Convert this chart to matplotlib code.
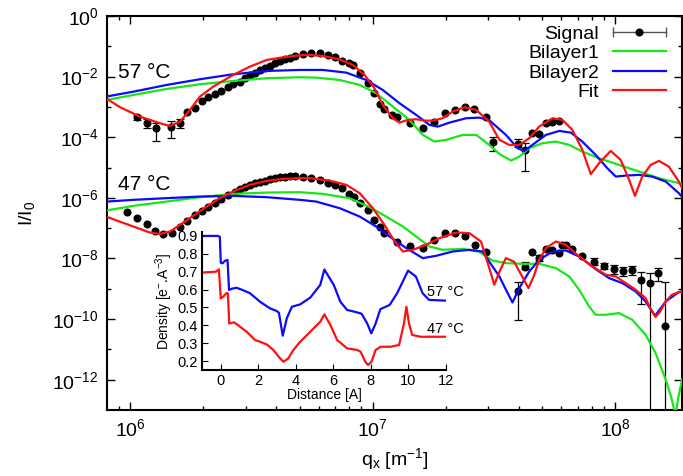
import numpy as np
import matplotlib
matplotlib.use('Agg')
import matplotlib.pyplot as plt
from matplotlib.lines import Line2D
from matplotlib.legend_handler import HandlerBase
from matplotlib.ticker import FixedLocator, NullFormatter, FixedFormatter

plt.rcParams['font.family'] = ['Liberation Sans', 'DejaVu Sans']
plt.rcParams['mathtext.default'] = 'regular'
plt.rcParams['mathtext.fontset'] = 'custom'
plt.rcParams['mathtext.rm'] = 'Liberation Sans'

# ---------------- data (log10 values) ----------------
# 57 C signal
sig57_lq = [6.028, 6.069, 6.106, 6.170, 6.206, 6.236, 6.267, 6.295, 6.322, 6.350, 6.377, 6.405,
            6.425, 6.453, 6.473, 6.494, 6.514, 6.535, 6.556, 6.576, 6.597, 6.617, 6.638, 6.658,
            6.679, 6.713, 6.748, 6.782, 6.816, 6.844, 6.874, 6.902, 6.919, 6.947, 6.981, 7.008,
            7.031, 7.046, 7.081, 7.100, 7.155, 7.207, 7.255, 7.299, 7.342, 7.383, 7.420, 7.468,
            7.495, 7.598, 7.629, 7.658, 7.687, 7.715, 7.741, 7.768]
sig57_lI = [-3.340, -3.538, -3.703, -3.670, -3.538, -3.155, -3.023, -2.802, -2.661, -2.572, -2.463, -2.331,
            -2.242, -2.166, -2.054, -1.945, -1.869, -1.780, -1.705, -1.639, -1.559, -1.493, -1.428, -1.375,
            -1.319, -1.263, -1.230, -1.230, -1.286, -1.342, -1.474, -1.540, -1.616, -1.889, -2.219, -2.549,
            -2.901, -3.076, -3.264, -3.320, -3.518, -3.703, -3.485, -3.208, -3.099, -3.010, -3.076, -3.320,
            -4.171, -4.220, -4.418, -3.874, -3.907, -3.518, -3.501, -3.468]
nan = np.nan
sig57_lo = [-3.429, -3.703, -4.111, -4.032, -3.703] + [nan] * 43 + [-4.451, -4.319, -5.100] + [nan] * 5
sig57_hi = [-3.264, -3.386, -3.518, -3.452, -3.386] + [nan] * 43 + [-4.006, -4.055, -4.197] + [nan] * 5

# 57 C fit
fit57_lq = [5.905, 5.959, 6.041, 6.123, 6.165, 6.206, 6.247, 6.288, 6.343, 6.425, 6.494, 6.563, 6.631,
            6.700, 6.741, 6.795, 6.864, 6.919, 6.967, 7.008, 7.042, 7.084, 7.111, 7.145, 7.180, 7.214,
            7.248, 7.289, 7.330, 7.379, 7.427, 7.481, 7.523, 7.564, 7.605, 7.646, 7.687, 7.742, 7.783,
            7.824, 7.865, 7.900, 7.934, 7.982, 8.023, 8.058, 8.082, 8.112, 8.147, 8.181, 8.222, 8.263, 8.276]
fit57_lI = [-2.737, -3.010, -3.320, -3.538, -3.627, -3.485, -3.099, -2.661, -2.331, -1.945, -1.672, -1.451, -1.362,
            -1.296, -1.286, -1.319, -1.428, -1.616, -1.945, -2.384, -2.934, -3.373, -3.518, -3.429, -3.406, -3.452,
            -3.452, -3.373, -3.155, -3.010, -3.099, -3.485, -4.088, -4.253, -4.253, -4.032, -3.650, -3.373, -3.429,
            -3.759, -4.418, -5.219, -4.856, -4.451, -4.748, -5.407, -5.935, -5.298, -4.913, -4.781, -4.969, -5.463, -5.671]

# 57 C bilayer 2
bl2_57_lq = [5.905, 6.014, 6.151, 6.288, 6.425, 6.563, 6.700, 6.795, 6.892, 6.974, 7.042, 7.111, 7.180,
             7.235, 7.269, 7.317, 7.386, 7.440, 7.481, 7.495, 7.550, 7.598, 7.626, 7.659, 7.715, 7.770,
             7.818, 7.865, 7.920, 7.968, 8.003, 8.044, 8.099, 8.153, 8.209, 8.263, 8.276]
bl2_57_lI = [-2.654, -2.496, -2.275, -2.087, -1.922, -1.813, -1.780, -1.780, -1.869, -2.110, -2.440, -2.878, -3.264,
             -3.594, -3.650, -3.518, -3.373, -3.353, -3.429, -3.538, -3.923, -4.362, -4.451, -4.253, -3.923, -3.792,
             -3.848, -4.144, -4.583, -5.021, -5.298, -5.265, -5.242, -5.298, -5.463, -5.846, -5.968]

# 57 C bilayer 1
bl1_57_lq = [5.905, 6.014, 6.151, 6.288, 6.425, 6.563, 6.700, 6.768, 6.864, 6.947, 7.015, 7.084, 7.152,
             7.207, 7.255, 7.303, 7.372, 7.427, 7.440, 7.481, 7.523, 7.571, 7.605, 7.646, 7.701, 7.756,
             7.811, 7.865, 7.934, 8.016, 8.099, 8.181, 8.263, 8.276]
bl1_57_lI = [-2.770, -2.605, -2.407, -2.252, -2.143, -2.054, -2.021, -2.034, -2.110, -2.275, -2.549, -2.990, -3.429,
             -3.923, -4.144, -4.088, -3.923, -3.923, -4.000, -4.253, -4.550, -4.771, -4.639, -4.362, -4.197, -4.144,
             -4.253, -4.474, -4.692, -4.913, -5.133, -5.351, -5.516, -5.539]

# 47 C signal
sig47_lq = [5.989, 6.030, 6.069, 6.103, 6.137, 6.171, 6.206, 6.236, 6.267, 6.295, 6.322, 6.350, 6.377,
            6.405, 6.432, 6.453, 6.473, 6.494, 6.514, 6.535, 6.556, 6.576, 6.597, 6.617, 6.638, 6.658,
            6.679, 6.713, 6.748, 6.782, 6.816, 6.844, 6.874, 6.902, 6.922, 6.949, 6.981, 7.008, 7.031,
            7.049, 7.100, 7.155, 7.207, 7.255, 7.299, 7.342, 7.383, 7.424, 7.468,
            7.598, 7.630, 7.657, 7.687, 7.715, 7.742, 7.770, 7.782, 7.797, 7.824, 7.865,
            7.914, 7.955, 7.996, 8.034, 8.071, 8.108, 8.143, 8.175, 8.206]
sig47_lI = [-6.452, -6.670, -6.858, -7.079, -7.187, -7.145, -6.947, -6.749, -6.561, -6.419, -6.287, -6.155, -6.043,
            -5.902, -5.793, -5.714, -5.628, -5.572, -5.516, -5.463, -5.430, -5.384, -5.351, -5.318, -5.298, -5.275,
            -5.275, -5.318, -5.351, -5.407, -5.516, -5.572, -5.681, -5.869, -5.958, -6.175, -6.396, -6.726, -6.966,
            -7.164, -7.441, -7.583, -7.659, -7.385, -7.164, -7.145, -7.253, -7.550, -7.771,
            -9.067, -8.266, -7.771, -7.989, -7.682, -7.715, -7.824, -7.550, -7.550, -7.692, -7.913,
            -8.101, -8.243, -8.351, -8.430, -8.397, -8.704, -8.813, -8.483, -10.221]
sig47_lo = [nan] * 49 + [-10.023, -8.351, nan, -8.090, nan, nan, nan, nan, nan, nan, nan,
                         -8.200, -8.352, -8.506, -8.572, -8.539, -9.495, -14.0, -8.760, -14.0]
sig47_hi = [nan] * 49 + [-8.780, -8.101, nan, -7.890, nan, nan, nan, nan, nan, nan, nan,
                         -8.000, -8.134, -8.210, -8.285, -8.243, -8.463, -8.483, -8.318, -8.780]

# 47 C fit
fit47_lq = [5.905, 5.945, 6.014, 6.082, 6.123, 6.165, 6.206, 6.260, 6.316, 6.370, 6.425, 6.494, 6.563,
            6.631, 6.700, 6.741, 6.823, 6.892, 6.947, 7.001, 7.049, 7.091, 7.125, 7.166, 7.221, 7.276,
            7.344, 7.399, 7.447, 7.481, 7.502, 7.523, 7.550, 7.584, 7.613, 7.643, 7.667, 7.687, 7.716,
            7.756, 7.797, 7.852, 7.907, 7.962, 8.003, 8.044, 8.085, 8.126, 8.148, 8.167, 8.185, 8.209,
            8.234, 8.263, 8.276]
fit47_lI = [-6.627, -6.749, -6.947, -7.145, -7.187, -7.112, -6.891, -6.594, -6.287, -6.010, -5.793, -5.572, -5.440,
            -5.374, -5.351, -5.351, -5.430, -5.572, -5.846, -6.340, -6.891, -7.441, -7.771, -7.715, -7.550, -7.329,
            -7.145, -7.164, -7.441, -8.309, -8.869, -8.441, -7.989, -8.111, -8.540, -8.978, -8.540, -8.045, -7.649,
            -7.441, -7.550, -7.936, -8.266, -8.539, -8.595, -8.813, -9.034, -9.308, -9.693, -9.934, -9.759, -9.419,
            -9.199, -9.110, -9.100]

# 47 C bilayer 2
bl2_47_lq = [5.905, 6.014, 6.151, 6.288, 6.425, 6.563, 6.700, 6.768, 6.864, 6.947, 7.015, 7.070, 7.139,
             7.207, 7.262, 7.330, 7.399, 7.454, 7.481, 7.523, 7.557, 7.577, 7.605, 7.646, 7.687, 7.742,
             7.797, 7.852, 7.920, 7.975, 8.030, 8.085, 8.126, 8.165, 8.209, 8.263, 8.276]
bl2_47_lI = [-6.123, -6.066, -6.010, -5.958, -5.935, -5.978, -6.066, -6.123, -6.340, -6.617, -6.947, -7.277, -7.659,
             -7.989, -7.913, -7.771, -7.715, -7.771, -8.101, -8.596, -9.143, -9.453, -8.978, -8.431, -8.045, -7.771,
             -7.738, -7.936, -8.351, -8.648, -8.813, -9.090, -9.419, -9.891, -9.419, -9.110, -9.100]

# 47 C bilayer 1
bl1_47_lq = [5.905, 6.014, 6.151, 6.288, 6.425, 6.563, 6.700, 6.795, 6.905, 6.988, 7.056, 7.125, 7.180,
             7.235, 7.289, 7.372, 7.440, 7.495, 7.550, 7.619, 7.687, 7.756, 7.811, 7.852, 7.893, 7.920,
             7.962, 8.016, 8.071, 8.126, 8.167, 8.209, 8.231, 8.250, 8.259, 8.276]
bl1_47_lI = [-6.413, -6.264, -6.123, -5.978, -5.869, -5.826, -5.813, -5.869, -6.010, -6.307, -6.617, -6.947, -7.277,
             -7.606, -7.715, -7.682, -7.781, -8.068, -8.154, -8.177, -8.177, -8.318, -8.595, -9.034, -9.584, -9.858,
             -9.858, -9.802, -10.023, -10.518, -11.121, -12.001, -12.562, -13.200, -12.660, -12.000]

# inset: density profiles
dist57 = [-1.0, -0.14, -0.05, 0.0, 0.1, 0.21, 0.36, 0.44, 0.6, 0.84, 1.1, 1.55, 2.09, 2.62, 2.98, 3.1,
          3.30, 3.52, 3.79, 4.23, 4.77, 5.30, 5.52, 6.02, 6.37, 6.73, 7.2, 7.5, 7.8, 8.02, 8.25, 8.5,
          9.0, 9.4, 9.98, 10.4, 10.75, 11.1, 12.0]
dens57 = [0.900, 0.900, 0.895, 0.750, 0.747, 0.760, 0.766, 0.598, 0.605, 0.610, 0.600, 0.580, 0.532, 0.495, 0.480, 0.470,
          0.342, 0.440, 0.504, 0.517, 0.555, 0.626, 0.712, 0.626, 0.532, 0.486, 0.474, 0.465, 0.411, 0.355, 0.410, 0.490,
          0.514, 0.580, 0.706, 0.672, 0.580, 0.542, 0.538]
dist47 = [-1.0, -0.25, -0.1, 0.0, 0.13, 0.3, 0.38, 0.45, 0.7, 0.93, 1.38, 1.82, 2.09, 2.45, 2.8, 3.16,
          3.34, 3.6, 3.87, 4.23, 4.77, 5.30, 5.52, 5.84, 6.2, 6.73, 7.27, 7.45, 7.7, 7.85, 8.03, 8.25,
          8.52, 9.05, 9.5, 9.76, 9.89, 10.03, 10.2, 10.65, 12.0]
dens47 = [0.695, 0.700, 0.713, 0.550, 0.560, 0.580, 0.578, 0.410, 0.417, 0.400, 0.364, 0.318, 0.308, 0.293, 0.262, 0.215,
          0.196, 0.215, 0.262, 0.308, 0.364, 0.420, 0.461, 0.402, 0.318, 0.271, 0.262, 0.252, 0.196, 0.178, 0.196, 0.262,
          0.280, 0.280, 0.290, 0.410, 0.504, 0.410, 0.346, 0.336, 0.336]

ytick_exp = [0, -2, -4, -6, -8, -10, -12]
xtick_exp = [6, 7, 8]

GREEN = '#19e619'
BLUE = '#0a0aff'
RED = '#ff1010'

def p(a):
    return 10.0 ** np.asarray(a, dtype=float)

# ---------------- figure ----------------
fig = plt.figure(figsize=(6.83, 4.76), dpi=100)
ax = fig.add_axes([107 / 683, 1 - 410 / 476, 575 / 683, 394 / 476])
ax.set_xscale('log')
ax.set_yscale('log')

lw = 1.6
for lq, lI, lo, hi in [(sig57_lq, sig57_lI, sig57_lo, sig57_hi), (sig47_lq, sig47_lI, sig47_lo, sig47_hi)]:
    q = p(lq); I = p(lI)
    ax.plot(q, I, 'o', color='black', ms=4.8, zorder=2)
    lo_a = np.asarray(lo, float); hi_a = np.asarray(hi, float)
    m = ~np.isnan(lo_a)
    ax.errorbar(q[m], I[m], yerr=[I[m] - p(lo_a[m]), p(hi_a[m]) - I[m]], fmt='none',
                ecolor='black', elinewidth=0.9, capsize=3, capthick=0.9, zorder=2)

ax.plot(p(bl1_57_lq), p(bl1_57_lI), color=GREEN, lw=lw, zorder=3)
ax.plot(p(bl2_57_lq), p(bl2_57_lI), color=BLUE, lw=lw, zorder=3)
ax.plot(p(fit57_lq), p(fit57_lI), color=RED, lw=lw, zorder=4)
ax.plot(p(bl1_47_lq), p(bl1_47_lI), color=GREEN, lw=lw, zorder=3)
ax.plot(p(bl2_47_lq), p(bl2_47_lI), color=BLUE, lw=lw, zorder=3)
ax.plot(p(fit47_lq), p(fit47_lI), color=RED, lw=lw, zorder=4)

ax.set_xlim(p(5.905), p(8.276))
ax.set_ylim(1e-13, 1.0)

ax.yaxis.set_major_locator(FixedLocator(p(ytick_exp)))
ax.yaxis.set_major_formatter(FixedFormatter([r'$10^{%d}$' % e for e in ytick_exp]))
ax.yaxis.set_minor_locator(FixedLocator(p([-1, -3, -5, -7, -9, -11])))
ax.yaxis.set_minor_formatter(NullFormatter())
ax.xaxis.set_major_locator(FixedLocator(p(xtick_exp)))
ax.xaxis.set_major_formatter(FixedFormatter([r'$10^{%d}$' % e for e in xtick_exp]))
minors = [m * 10.0 ** d for d in [5, 6, 7, 8] for m in range(2, 10)]
ax.xaxis.set_minor_locator(FixedLocator(minors))
ax.xaxis.set_minor_formatter(NullFormatter())

ax.tick_params(which='both', direction='in', top=True, right=True, labelsize=14, width=1.0)
ax.tick_params(which='major', length=5.5, pad=6)
ax.tick_params(which='minor', length=2.8)
for s in ax.spines.values():
    s.set_linewidth(1.5)

ax.set_ylabel(r'$I/I_0$', fontsize=14, labelpad=11)
ax.set_xlabel(r'$q_x$ [$m^{-1}$]', fontsize=14, labelpad=4)

fig.text(118 / 683, 1 - 72 / 476, '57 °C', fontsize=15, va='center', ha='left')
fig.text(118 / 683, 1 - 184 / 476, '47 °C', fontsize=15, va='center', ha='left')


# legend
class SignalHandler(HandlerBase):
    def create_artists(self, legend, orig_handle, xdescent, ydescent, width, height, fontsize, trans):
        y = height / 2 - ydescent
        x0 = -xdescent
        x1 = -xdescent + width
        line = Line2D([x0, x1], [y, y], color='#555555', lw=1.0)
        caps = Line2D([x0, x1], [y, y], ls='none', marker='|', ms=7, mew=1.0, color='#555555')
        dot = Line2D([(x0 + x1) / 2], [y], ls='none', marker='o', ms=4.8, color='black')
        for a in (line, caps, dot):
            a.set_transform(trans)
        return [line, caps, dot]


sig_handle = Line2D([], [], color='black')
h1 = Line2D([], [], color=GREEN, lw=lw)
h2 = Line2D([], [], color=BLUE, lw=lw)
h3 = Line2D([], [], color=RED, lw=lw)
leg = ax.legend([sig_handle, h1, h2, h3], ['Signal', 'Bilayer1', 'Bilayer2', 'Fit'],
                handler_map={sig_handle: SignalHandler()},
                loc='upper right', bbox_to_anchor=(666 / 683, 1 - 25 / 476), bbox_transform=fig.transFigure,
                frameon=False, markerfirst=False, fontsize=14, handlelength=2.75, handletextpad=0.7,
                labelspacing=0.1, borderpad=0, borderaxespad=0)

# inset
axi = fig.add_axes([202 / 683, 1 - 370 / 476, 244 / 683, 138 / 476])
axi.patch.set_alpha(0)
axi.plot(dist57, dens57, color=BLUE, lw=1.6)
axi.plot(dist47, dens47, color=RED, lw=1.6)
axi.set_xlim(-1, 12)
axi.set_ylim(0.15, 0.922)
axi.set_xticks([0, 2, 4, 6, 8, 10, 12])
axi.set_yticks([0.2, 0.3, 0.4, 0.5, 0.6, 0.7, 0.8, 0.9])
axi.spines['top'].set_visible(False)
axi.spines['right'].set_visible(False)
for s in ['left', 'bottom']:
    axi.spines[s].set_linewidth(1.5)
axi.tick_params(direction='in', labelsize=10.5, length=4, pad=3)
axi.set_xlabel('Distance [A]', fontsize=10, labelpad=0)
axi.set_ylabel(r'Density [e$^{-}$.A$^{-3}$]', fontsize=10, labelpad=2)
axi.text(10.98, 0.586, '57 °C', fontsize=10.5, va='center', ha='left')
axi.text(10.98, 0.379, '47 °C', fontsize=10.5, va='center', ha='left')

fig.savefig('out.png', dpi=100)
